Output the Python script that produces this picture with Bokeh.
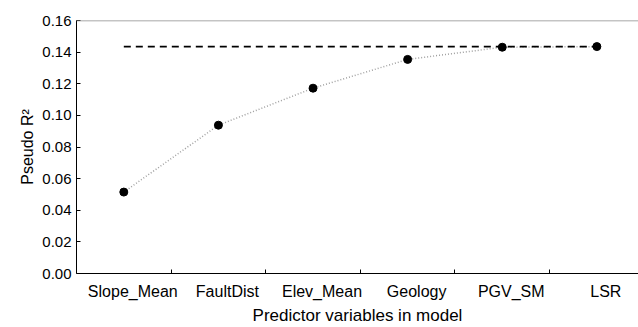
from bokeh.plotting import figure
from bokeh.models import Range1d, FixedTicker, Span, ColumnDataSource
from bokeh.embed import file_html
from bokeh.resources import INLINE

categories = ["Slope_Mean", "FaultDist", "Elev_Mean", "Geology", "PGV_SM", "LSR"]
pseudo_r2 = [0.0515, 0.0938, 0.1172, 0.1354, 0.1431, 0.1435]
full_model_r2 = 0.1435
y_ticks = [0.00, 0.02, 0.04, 0.06, 0.08, 0.10, 0.12, 0.14, 0.16]

FONT = "Liberation Sans"
LABEL_SHIFT = 0.095  # category labels sit slightly right of the bin centres

xs = [i + 0.5 for i in range(len(categories))]
src = ColumnDataSource(dict(x=xs, y=pseudo_r2, cat=categories))

p = figure(width=638, height=327, output_backend="svg", toolbar_location=None,
           x_range=Range1d(0, 5.94), y_range=Range1d(0, 0.16),
           min_border_left=76, min_border_right=0, min_border_top=20, min_border_bottom=50)
p.outline_line_color = None
p.grid.visible = False
p.background_fill_color = "white"
p.border_fill_color = "white"

# top frame line (gray)
p.add_layout(Span(location=0.16, dimension="width", line_color="#8a8a8a", line_width=1.5))

# dotted connecting line and points
p.line("x", "y", source=src, line_color="#a0a0a0", line_width=1.5, line_dash="1 2")
# dashed reference line at full model value
p.line([xs[0], xs[-1]], [full_model_r2, full_model_r2], line_color="black",
       line_width=1.6, line_dash="7 5")
p.scatter("x", "y", source=src, size=8, color="black")

# x axis
label_pos = [x + LABEL_SHIFT for x in xs]
xa = p.xaxis[0]
xa.ticker = FixedTicker(ticks=label_pos, minor_ticks=[1, 2, 3, 4, 5])
xa.major_label_overrides = {x: c for x, c in zip(label_pos, categories)}
xa.major_tick_in = 0
xa.major_tick_out = 0
xa.minor_tick_in = 4
xa.minor_tick_out = 0
xa.minor_tick_line_color = "black"
xa.axis_line_color = "black"
xa.major_label_text_font = FONT
xa.major_label_text_font_size = "16px"
xa.major_label_text_color = "black"
xa.major_label_standoff = 9
xa.axis_label = "Predictor variables in model"
xa.axis_label_text_font = FONT
xa.axis_label_text_font_size = "17px"
xa.axis_label_text_font_style = "normal"
xa.axis_label_text_color = "black"
xa.axis_label_standoff = 3

# y axis
ya = p.yaxis[0]
ya.ticker = FixedTicker(ticks=y_ticks)
ya.major_label_overrides = {v: f"{v:.2f}" for v in y_ticks}
ya.major_tick_in = 4
ya.major_tick_out = 0
ya.minor_tick_line_color = None
ya.axis_line_color = "black"
ya.major_tick_line_color = "black"
ya.major_label_text_font = FONT
ya.major_label_text_font_size = "15px"
ya.major_label_text_color = "black"
ya.major_label_standoff = 5
ya.axis_label = "Pseudo R²"
ya.axis_label_text_font = FONT
ya.axis_label_text_font_size = "16px"
ya.axis_label_text_font_style = "normal"
ya.axis_label_text_color = "black"
ya.axis_label_standoff = 3

open("out.html", "w").write(file_html(p, INLINE))
